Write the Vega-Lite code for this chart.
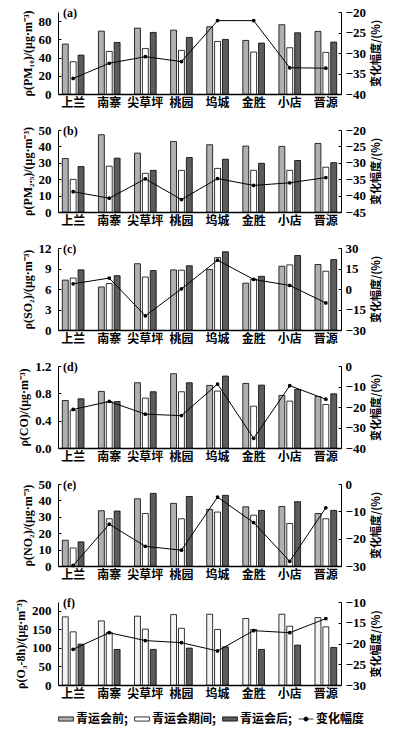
{
  "$schema": "https://vega.github.io/schema/vega-lite/v6.json",
  "padding": {"left": 14, "top": 6, "right": 4, "bottom": 4},
  "data": {"values": [
    {"panel": "a", "station": "上兰", "青运会前": 54.8, "青运会期间": 35.4, "青运会后": 42.7, "chg": -36.2},
    {"panel": "a", "station": "南寨", "青运会前": 69.0, "青运会期间": 46.8, "青运会后": 56.6, "chg": -32.5},
    {"panel": "a", "station": "尖草坪", "青运会前": 72.3, "青运会期间": 50.0, "青运会后": 67.6, "chg": -30.9},
    {"panel": "a", "station": "桃园", "青运会前": 70.1, "青运会期间": 47.9, "青运会后": 62.1, "chg": -32.1},
    {"panel": "a", "station": "坞城", "青运会前": 73.8, "青运会期间": 57.7, "青运会后": 59.9, "chg": -22.1},
    {"panel": "a", "station": "金胜", "青运会前": 58.8, "青运会期间": 46.0, "青运会后": 55.9, "chg": -22.1},
    {"panel": "a", "station": "小店", "青运会前": 76.0, "青运会期间": 50.8, "青运会后": 67.2, "chg": -33.6},
    {"panel": "a", "station": "晋源", "青运会前": 68.7, "青运会期间": 45.7, "青运会后": 57.0, "chg": -33.7},
    {"panel": "b", "station": "上兰", "青运会前": 32.6, "青运会期间": 19.9, "青运会后": 27.7, "chg": -38.8},
    {"panel": "b", "station": "南寨", "青运会前": 47.1, "青运会期间": 27.9, "青运会后": 32.8, "chg": -40.8},
    {"panel": "b", "station": "尖草坪", "青运会前": 35.9, "青运会期间": 23.6, "青运会后": 25.4, "chg": -34.9},
    {"panel": "b", "station": "桃园", "青运会前": 43.0, "青运会期间": 25.4, "青运会后": 33.2, "chg": -41.2},
    {"panel": "b", "station": "坞城", "青运会前": 41.0, "青运会期间": 26.6, "青运会后": 32.2, "chg": -34.8},
    {"panel": "b", "station": "金胜", "青运会前": 40.2, "青运会期间": 25.4, "青运会后": 29.7, "chg": -36.9},
    {"panel": "b", "station": "小店", "青运会前": 40.0, "青运会期间": 25.4, "青运会后": 31.4, "chg": -36.1},
    {"panel": "b", "station": "晋源", "青运会前": 41.8, "青运会期间": 27.3, "青运会后": 30.1, "chg": -34.5},
    {"panel": "c", "station": "上兰", "青运会前": 7.3, "青运会期间": 7.6, "青运会后": 8.8, "chg": 3.8},
    {"panel": "c", "station": "南寨", "青运会前": 6.3, "青运会期间": 6.8, "青运会后": 7.95, "chg": 8.0},
    {"panel": "c", "station": "尖草坪", "青运会前": 9.7, "青运会期间": 7.75, "青运会后": 8.7, "chg": -19.6},
    {"panel": "c", "station": "桃园", "青运会前": 8.8, "青运会期间": 8.75, "青运会后": 9.4, "chg": 0.1},
    {"panel": "c", "station": "坞城", "青运会前": 8.85, "青运会期间": 10.6, "青运会后": 11.45, "chg": 21.1},
    {"panel": "c", "station": "金胜", "青运会前": 6.86, "青运会期间": 7.46, "青运会后": 7.85, "chg": 7.0},
    {"panel": "c", "station": "小店", "青运会前": 9.33, "青运会期间": 9.53, "青运会后": 10.9, "chg": 2.6},
    {"panel": "c", "station": "晋源", "青运会前": 9.58, "青运会期间": 8.6, "青运会后": 10.3, "chg": -10.2},
    {"panel": "d", "station": "上兰", "青运会前": 0.695, "青运会期间": 0.553, "青运会后": 0.72, "chg": -21.2},
    {"panel": "d", "station": "南寨", "青运会前": 0.828, "青运会期间": 0.68, "青运会后": 0.68, "chg": -17.3},
    {"panel": "d", "station": "尖草坪", "青运会前": 0.955, "青运会期间": 0.73, "青运会后": 0.823, "chg": -23.5},
    {"panel": "d", "station": "桃园", "青运会前": 1.087, "青运会期间": 0.823, "青运会后": 0.955, "chg": -24.2},
    {"panel": "d", "station": "坞城", "青运会前": 0.916, "青运会期间": 0.833, "青运会后": 1.053, "chg": -8.8},
    {"panel": "d", "station": "金胜", "青运会前": 0.945, "青运会期间": 0.612, "青运会后": 0.92, "chg": -35.3},
    {"panel": "d", "station": "小店", "青运会前": 0.769, "青运会期间": 0.686, "青运会后": 0.857, "chg": -9.6},
    {"panel": "d", "station": "晋源", "青运会前": 0.754, "青运会期间": 0.637, "青运会后": 0.793, "chg": -16.2},
    {"panel": "e", "station": "上兰", "青运会前": 15.7, "青运会期间": 11.0, "青运会后": 14.7, "chg": -29.8},
    {"panel": "e", "station": "南寨", "青运会前": 33.7, "青运会期间": 28.8, "青运会后": 33.5, "chg": -14.7},
    {"panel": "e", "station": "尖草坪", "青运会前": 41.0, "青运会期间": 32.0, "青运会后": 44.3, "chg": -22.8},
    {"panel": "e", "station": "桃园", "青运会前": 38.2, "青运会期间": 28.8, "青运会后": 42.4, "chg": -24.2},
    {"panel": "e", "station": "坞城", "青运会前": 34.5, "青运会期间": 32.9, "青运会后": 43.1, "chg": -4.8},
    {"panel": "e", "station": "金胜", "青运会前": 36.1, "青运会期间": 31.0, "青运会后": 33.9, "chg": -14.1},
    {"panel": "e", "station": "小店", "青运会前": 36.3, "青运会期间": 25.9, "青运会后": 39.2, "chg": -28.3},
    {"panel": "e", "station": "晋源", "青运会前": 32.0, "青运会期间": 28.8, "青运会后": 33.9, "chg": -8.7},
    {"panel": "f", "station": "上兰", "青运会前": 183.9, "青运会期间": 143.5, "青运会后": 110.3, "chg": -21.4},
    {"panel": "f", "station": "南寨", "青运会前": 173.0, "青运会期间": 142.0, "青运会后": 96.0, "chg": -17.4},
    {"panel": "f", "station": "尖草坪", "青运会前": 185.7, "青运会期间": 150.7, "青运会后": 96.0, "chg": -19.3},
    {"panel": "f", "station": "桃园", "青运会前": 190.0, "青运会期间": 153.0, "青运会后": 99.5, "chg": -19.8},
    {"panel": "f", "station": "坞城", "青运会前": 191.0, "青运会期间": 149.8, "青运会后": 103.0, "chg": -21.8},
    {"panel": "f", "station": "金胜", "青运会前": 179.4, "青运会期间": 149.8, "青运会后": 96.0, "chg": -16.9},
    {"panel": "f", "station": "小店", "青运会前": 191.0, "青运会期间": 158.7, "青运会后": 107.6, "chg": -17.4},
    {"panel": "f", "station": "晋源", "青运会前": 182.0, "青运会期间": 157.0, "青运会后": 101.3, "chg": -14.0}
  ]},
  "spacing": 16,
  "vconcat": [
    {
      "width": 283, "height": 82,
      "title": {"text": "(a)"},
      "transform": [{"filter": "datum.panel === 'a'"}],
      "layer": [
        {"transform": [{"fold": ["青运会前", "青运会期间", "青运会后"], "as": ["period", "value"]}],
         "mark": {"type": "bar", "stroke": "black", "strokeWidth": 0.8},
         "encoding": {
           "x": {"field": "station", "type": "nominal", "sort": ["上兰", "南寨", "尖草坪", "桃园", "坞城", "金胜", "小店", "晋源"], "scale": {"paddingInner": 0.4, "paddingOuter": 0.12}, "axis": {"title": null}},
           "xOffset": {"field": "period", "type": "nominal", "sort": ["青运会前", "青运会期间", "青运会后"], "scale": {"paddingInner": 0.25}},
           "y": {"field": "value", "type": "quantitative", "scale": {"domain": [0, 90], "nice": false}, "axis": {"values": [0, 20, 40, 60, 80], "title": "ρ(PM₁₀)/(μg·m⁻³)"}},
           "fill": {"field": "period", "type": "nominal", "scale": {"domain": ["青运会前", "青运会期间", "青运会后", "变化幅度"], "range": ["#b0b0b0", "#ffffff", "#5c5c5c", "#000000"]}, "legend": {"labelExpr": "datum.label === '变化幅度' ? datum.label : datum.label + ';'", "encode": {"symbols": {"update": {"shape": {"signal": "datum.value === '变化幅度' ? 'M-1,0H1M-0.28,0A0.28,0.28,0,1,1,0.28,0A0.28,0.28,0,1,1,-0.28,0Z' : 'M-1,-0.28H1V0.28H-1Z'"}}}}}}
         }},
        {"mark": {"type": "line", "stroke": "black", "strokeWidth": 1, "point": {"filled": true, "fill": "black", "size": 14}},
         "encoding": {
           "x": {"field": "station", "type": "nominal", "sort": ["上兰", "南寨", "尖草坪", "桃园", "坞城", "金胜", "小店", "晋源"]},
           "y": {"field": "chg", "type": "quantitative", "scale": {"domain": [-40, -20], "nice": false}, "axis": {"orient": "right", "values": [-40, -35, -30, -25, -20], "title": "变化幅度/(%)"}}
         }}
      ],
      "resolve": {"scale": {"y": "independent"}}
    },
    {
      "width": 283, "height": 82,
      "title": {"text": "(b)"},
      "transform": [{"filter": "datum.panel === 'b'"}],
      "layer": [
        {"transform": [{"fold": ["青运会前", "青运会期间", "青运会后"], "as": ["period", "value"]}],
         "mark": {"type": "bar", "stroke": "black", "strokeWidth": 0.8},
         "encoding": {
           "x": {"field": "station", "type": "nominal", "sort": ["上兰", "南寨", "尖草坪", "桃园", "坞城", "金胜", "小店", "晋源"], "scale": {"paddingInner": 0.4, "paddingOuter": 0.12}, "axis": {"title": null}},
           "xOffset": {"field": "period", "type": "nominal", "sort": ["青运会前", "青运会期间", "青运会后"], "scale": {"paddingInner": 0.25}},
           "y": {"field": "value", "type": "quantitative", "scale": {"domain": [0, 50], "nice": false}, "axis": {"values": [0, 10, 20, 30, 40, 50], "title": "ρ(PM₂.₅)/(μg·m⁻³)"}},
           "fill": {"field": "period", "type": "nominal", "scale": {"domain": ["青运会前", "青运会期间", "青运会后", "变化幅度"], "range": ["#b0b0b0", "#ffffff", "#5c5c5c", "#000000"]}, "legend": {"labelExpr": "datum.label === '变化幅度' ? datum.label : datum.label + ';'", "encode": {"symbols": {"update": {"shape": {"signal": "datum.value === '变化幅度' ? 'M-1,0H1M-0.28,0A0.28,0.28,0,1,1,0.28,0A0.28,0.28,0,1,1,-0.28,0Z' : 'M-1,-0.28H1V0.28H-1Z'"}}}}}}
         }},
        {"mark": {"type": "line", "stroke": "black", "strokeWidth": 1, "point": {"filled": true, "fill": "black", "size": 14}},
         "encoding": {
           "x": {"field": "station", "type": "nominal", "sort": ["上兰", "南寨", "尖草坪", "桃园", "坞城", "金胜", "小店", "晋源"]},
           "y": {"field": "chg", "type": "quantitative", "scale": {"domain": [-45, -20], "nice": false}, "axis": {"orient": "right", "values": [-45, -40, -35, -30, -25, -20], "title": "变化幅度/(%)"}}
         }}
      ],
      "resolve": {"scale": {"y": "independent"}}
    },
    {
      "width": 283, "height": 82,
      "title": {"text": "(c)"},
      "transform": [{"filter": "datum.panel === 'c'"}],
      "layer": [
        {"transform": [{"fold": ["青运会前", "青运会期间", "青运会后"], "as": ["period", "value"]}],
         "mark": {"type": "bar", "stroke": "black", "strokeWidth": 0.8},
         "encoding": {
           "x": {"field": "station", "type": "nominal", "sort": ["上兰", "南寨", "尖草坪", "桃园", "坞城", "金胜", "小店", "晋源"], "scale": {"paddingInner": 0.4, "paddingOuter": 0.12}, "axis": {"title": null}},
           "xOffset": {"field": "period", "type": "nominal", "sort": ["青运会前", "青运会期间", "青运会后"], "scale": {"paddingInner": 0.25}},
           "y": {"field": "value", "type": "quantitative", "scale": {"domain": [0, 12], "nice": false}, "axis": {"values": [0, 3, 6, 9, 12], "title": "ρ(SO₂)/(μg·m⁻³)"}},
           "fill": {"field": "period", "type": "nominal", "scale": {"domain": ["青运会前", "青运会期间", "青运会后", "变化幅度"], "range": ["#b0b0b0", "#ffffff", "#5c5c5c", "#000000"]}, "legend": {"labelExpr": "datum.label === '变化幅度' ? datum.label : datum.label + ';'", "encode": {"symbols": {"update": {"shape": {"signal": "datum.value === '变化幅度' ? 'M-1,0H1M-0.28,0A0.28,0.28,0,1,1,0.28,0A0.28,0.28,0,1,1,-0.28,0Z' : 'M-1,-0.28H1V0.28H-1Z'"}}}}}}
         }},
        {"mark": {"type": "line", "stroke": "black", "strokeWidth": 1, "point": {"filled": true, "fill": "black", "size": 14}},
         "encoding": {
           "x": {"field": "station", "type": "nominal", "sort": ["上兰", "南寨", "尖草坪", "桃园", "坞城", "金胜", "小店", "晋源"]},
           "y": {"field": "chg", "type": "quantitative", "scale": {"domain": [-30, 30], "nice": false}, "axis": {"orient": "right", "values": [-30, -15, 0, 15, 30], "title": "变化幅度/(%)"}}
         }}
      ],
      "resolve": {"scale": {"y": "independent"}}
    },
    {
      "width": 283, "height": 82,
      "title": {"text": "(d)"},
      "transform": [{"filter": "datum.panel === 'd'"}],
      "layer": [
        {"transform": [{"fold": ["青运会前", "青运会期间", "青运会后"], "as": ["period", "value"]}],
         "mark": {"type": "bar", "stroke": "black", "strokeWidth": 0.8},
         "encoding": {
           "x": {"field": "station", "type": "nominal", "sort": ["上兰", "南寨", "尖草坪", "桃园", "坞城", "金胜", "小店", "晋源"], "scale": {"paddingInner": 0.4, "paddingOuter": 0.12}, "axis": {"title": null}},
           "xOffset": {"field": "period", "type": "nominal", "sort": ["青运会前", "青运会期间", "青运会后"], "scale": {"paddingInner": 0.25}},
           "y": {"field": "value", "type": "quantitative", "scale": {"domain": [0, 1.2], "nice": false}, "axis": {"values": [0, 0.4, 0.8, 1.2], "format": ".1f", "title": "ρ(CO)/(μg·m⁻³)"}},
           "fill": {"field": "period", "type": "nominal", "scale": {"domain": ["青运会前", "青运会期间", "青运会后", "变化幅度"], "range": ["#b0b0b0", "#ffffff", "#5c5c5c", "#000000"]}, "legend": {"labelExpr": "datum.label === '变化幅度' ? datum.label : datum.label + ';'", "encode": {"symbols": {"update": {"shape": {"signal": "datum.value === '变化幅度' ? 'M-1,0H1M-0.28,0A0.28,0.28,0,1,1,0.28,0A0.28,0.28,0,1,1,-0.28,0Z' : 'M-1,-0.28H1V0.28H-1Z'"}}}}}}
         }},
        {"mark": {"type": "line", "stroke": "black", "strokeWidth": 1, "point": {"filled": true, "fill": "black", "size": 14}},
         "encoding": {
           "x": {"field": "station", "type": "nominal", "sort": ["上兰", "南寨", "尖草坪", "桃园", "坞城", "金胜", "小店", "晋源"]},
           "y": {"field": "chg", "type": "quantitative", "scale": {"domain": [-40, 0], "nice": false}, "axis": {"orient": "right", "values": [-40, -30, -20, -10, 0], "title": "变化幅度/(%)"}}
         }}
      ],
      "resolve": {"scale": {"y": "independent"}}
    },
    {
      "width": 283, "height": 82,
      "title": {"text": "(e)"},
      "transform": [{"filter": "datum.panel === 'e'"}],
      "layer": [
        {"transform": [{"fold": ["青运会前", "青运会期间", "青运会后"], "as": ["period", "value"]}],
         "mark": {"type": "bar", "stroke": "black", "strokeWidth": 0.8},
         "encoding": {
           "x": {"field": "station", "type": "nominal", "sort": ["上兰", "南寨", "尖草坪", "桃园", "坞城", "金胜", "小店", "晋源"], "scale": {"paddingInner": 0.4, "paddingOuter": 0.12}, "axis": {"title": null}},
           "xOffset": {"field": "period", "type": "nominal", "sort": ["青运会前", "青运会期间", "青运会后"], "scale": {"paddingInner": 0.25}},
           "y": {"field": "value", "type": "quantitative", "scale": {"domain": [0, 50], "nice": false}, "axis": {"values": [0, 10, 20, 30, 40, 50], "title": "ρ(NO₂)/(μg·m⁻³)"}},
           "fill": {"field": "period", "type": "nominal", "scale": {"domain": ["青运会前", "青运会期间", "青运会后", "变化幅度"], "range": ["#b0b0b0", "#ffffff", "#5c5c5c", "#000000"]}, "legend": {"labelExpr": "datum.label === '变化幅度' ? datum.label : datum.label + ';'", "encode": {"symbols": {"update": {"shape": {"signal": "datum.value === '变化幅度' ? 'M-1,0H1M-0.28,0A0.28,0.28,0,1,1,0.28,0A0.28,0.28,0,1,1,-0.28,0Z' : 'M-1,-0.28H1V0.28H-1Z'"}}}}}}
         }},
        {"mark": {"type": "line", "stroke": "black", "strokeWidth": 1, "point": {"filled": true, "fill": "black", "size": 14}},
         "encoding": {
           "x": {"field": "station", "type": "nominal", "sort": ["上兰", "南寨", "尖草坪", "桃园", "坞城", "金胜", "小店", "晋源"]},
           "y": {"field": "chg", "type": "quantitative", "scale": {"domain": [-30, 0], "nice": false}, "axis": {"orient": "right", "values": [-30, -20, -10, 0], "title": "变化幅度/(%)"}}
         }}
      ],
      "resolve": {"scale": {"y": "independent"}}
    },
    {
      "width": 283, "height": 83,
      "title": {"text": "(f)"},
      "transform": [{"filter": "datum.panel === 'f'"}],
      "layer": [
        {"transform": [{"fold": ["青运会前", "青运会期间", "青运会后"], "as": ["period", "value"]}],
         "mark": {"type": "bar", "stroke": "black", "strokeWidth": 0.8},
         "encoding": {
           "x": {"field": "station", "type": "nominal", "sort": ["上兰", "南寨", "尖草坪", "桃园", "坞城", "金胜", "小店", "晋源"], "scale": {"paddingInner": 0.4, "paddingOuter": 0.12}, "axis": {"title": null}},
           "xOffset": {"field": "period", "type": "nominal", "sort": ["青运会前", "青运会期间", "青运会后"], "scale": {"paddingInner": 0.25}},
           "y": {"field": "value", "type": "quantitative", "scale": {"domain": [0, 224], "nice": false}, "axis": {"values": [0, 50, 100, 150, 200], "title": "ρ(O₃-8h)/(μg·m⁻³)"}},
           "fill": {"condition": {"test": "datum.period === '青运会前'", "value": "#f3f3f3"}, "field": "period", "type": "nominal", "scale": {"domain": ["青运会前", "青运会期间", "青运会后", "变化幅度"], "range": ["#b0b0b0", "#ffffff", "#5c5c5c", "#000000"]}, "legend": {"labelExpr": "datum.label === '变化幅度' ? datum.label : datum.label + ';'", "encode": {"symbols": {"update": {"shape": {"signal": "datum.value === '变化幅度' ? 'M-1,0H1M-0.28,0A0.28,0.28,0,1,1,0.28,0A0.28,0.28,0,1,1,-0.28,0Z' : 'M-1,-0.28H1V0.28H-1Z'"}}}}}}
         }},
        {"mark": {"type": "line", "stroke": "black", "strokeWidth": 1, "point": {"filled": true, "fill": "black", "size": 14}},
         "encoding": {
           "x": {"field": "station", "type": "nominal", "sort": ["上兰", "南寨", "尖草坪", "桃园", "坞城", "金胜", "小店", "晋源"]},
           "y": {"field": "chg", "type": "quantitative", "scale": {"domain": [-30, -10], "nice": false}, "axis": {"orient": "right", "values": [-30, -25, -20, -15, -10], "title": "变化幅度/(%)"}}
         }}
      ],
      "resolve": {"scale": {"y": "independent"}}
    }
  ],
  "config": {
    "view": {"stroke": null},
    "title": {"anchor": "start", "frame": "group", "offset": -14, "dx": 5, "font": "Liberation Serif", "fontSize": 12, "fontWeight": "bold", "color": "black"},
    "axis": {"grid": false, "domainColor": "black", "tickColor": "black", "labelColor": "black", "titleColor": "black", "labelFont": "Liberation Serif", "labelFontSize": 13, "labelFontWeight": "bold", "titleFont": "Liberation Serif", "titleFontSize": 12, "titleFontWeight": "bold"},
    "axisX": {"ticks": false, "labelAngle": 0, "domainWidth": 1.5, "labelFont": "Noto Sans CJK SC", "labelFontSize": 12, "labelFontWeight": "bold", "labelPadding": 3},
    "axisLeft": {"tickSize": -3, "labelPadding": 10, "titlePadding": 4},
    "axisRight": {"tickSize": -3, "labelPadding": 7, "titlePadding": 5, "titleFont": "Noto Sans CJK SC", "titleAngle": 270, "titleBaseline": "top", "titleFontSize": 11},
    "legend": {
      "orient": "bottom", "direction": "horizontal", "title": null,
      "symbolSize": 220, "symbolStrokeColor": "black", "symbolStrokeWidth": 0.8,
      "labelFont": "Noto Sans CJK SC", "labelFontWeight": "bold", "labelFontSize": 12, "labelColor": "black",
      "labelOffset": 2, "columnPadding": 4, "offset": 12
    }
  }
}
